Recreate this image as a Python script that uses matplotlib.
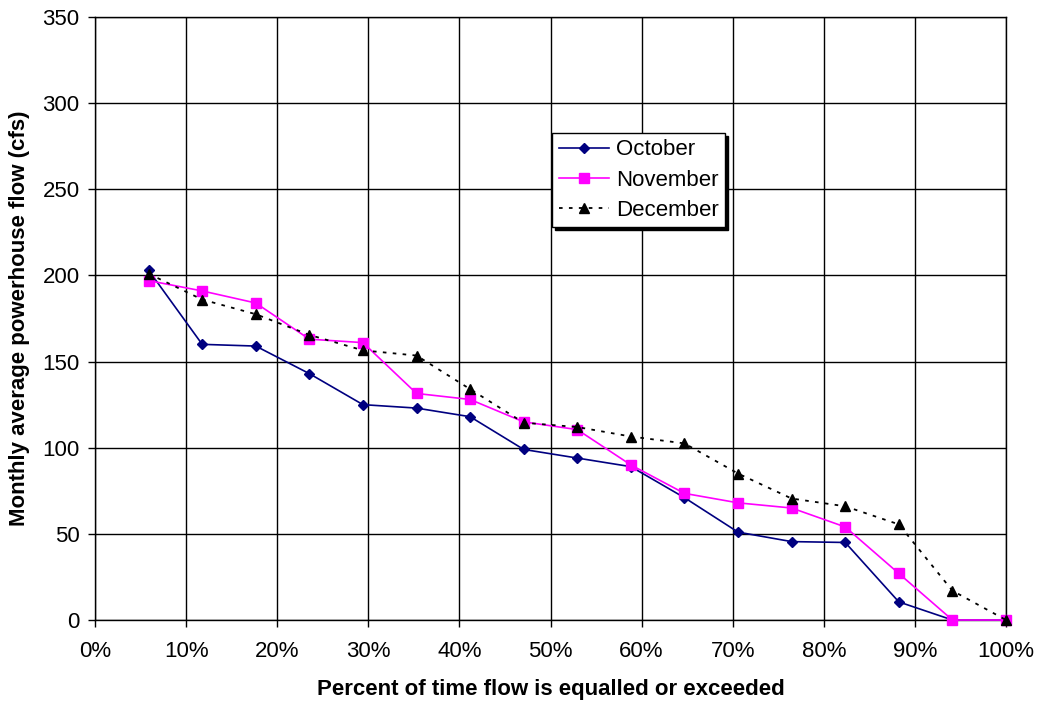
import matplotlib.pyplot as plt
import numpy as np
from matplotlib.ticker import PercentFormatter

plt.rcParams['font.family'] = ['Liberation Sans', 'DejaVu Sans']

# exceedance fraction for each of the 17 ranked months
exceed = np.arange(1, 18) / 17

october = [203, 160, 159, 143, 125, 123, 118, 99, 94, 89, 71, 51, 45.5, 45, 10.5, 0, 0]
november = [197, 191, 184, 163, 161, 131.5, 128, 115, 110.5, 90, 73.5, 68, 65, 54, 27, 0, 0]
december = [201, 186, 177.5, 165.5, 156.5, 153.5, 134, 114.5, 112, 106.5, 102.5, 85, 70.5, 66, 55.5, 17, 0]

y_ticks = np.arange(0, 351, 50)
x_ticks = np.arange(0, 1.01, 0.1)


def make_plot():
    fig = plt.figure(figsize=(10.39, 7.04), dpi=100)
    ax = fig.add_axes([95 / 1039, 1 - 620 / 704, 911 / 1039, 603 / 704])

    ax.plot(exceed, october, color='#000080', marker='D', markersize=5.5,
            linewidth=1.2, label='October', clip_on=False, zorder=3)
    ax.plot(exceed, november, color='#FF00FF', marker='s', markersize=7,
            linewidth=1.2, label='November', clip_on=False, zorder=3)
    ax.plot(exceed, december, color='black', marker='^', markersize=7,
            linewidth=1.3, linestyle=(0, (2, 3.5)), label='December',
            clip_on=False, zorder=4)

    ax.set_xlim(0, 1)
    ax.set_ylim(0, 350)
    ax.set_xticks(x_ticks)
    ax.set_yticks(y_ticks)
    ax.xaxis.set_major_formatter(PercentFormatter(1.0, decimals=0))
    ax.tick_params(labelsize=16, length=5, width=1, direction='out', color='black')
    ax.tick_params(axis='x', pad=10)
    ax.tick_params(axis='y', pad=6)
    ax.grid(True, color='black', linewidth=1)
    ax.set_axisbelow(True)
    for s in ax.spines.values():
        s.set_color('black')
        s.set_linewidth(1)

    ax.set_xlabel('Percent of time flow is equalled or exceeded', fontsize=16,
                  fontweight='bold', labelpad=12)
    ax.set_ylabel('Monthly average powerhouse flow (cfs)', fontsize=16,
                  fontweight='bold', labelpad=9)

    leg = ax.legend(loc='upper left', bbox_to_anchor=(0.502, 0.808), borderaxespad=0,
                    fontsize=16, frameon=True, fancybox=False, edgecolor='black',
                    framealpha=1, shadow={'color': 'black', 'alpha': 1},
                    handlelength=2.25, handletextpad=0.3, labelspacing=0.41,
                    borderpad=0.3)
    leg.get_frame().set_linewidth(1)

    fig.savefig('out.png', dpi=100)


if __name__ == '__main__':
    make_plot()
